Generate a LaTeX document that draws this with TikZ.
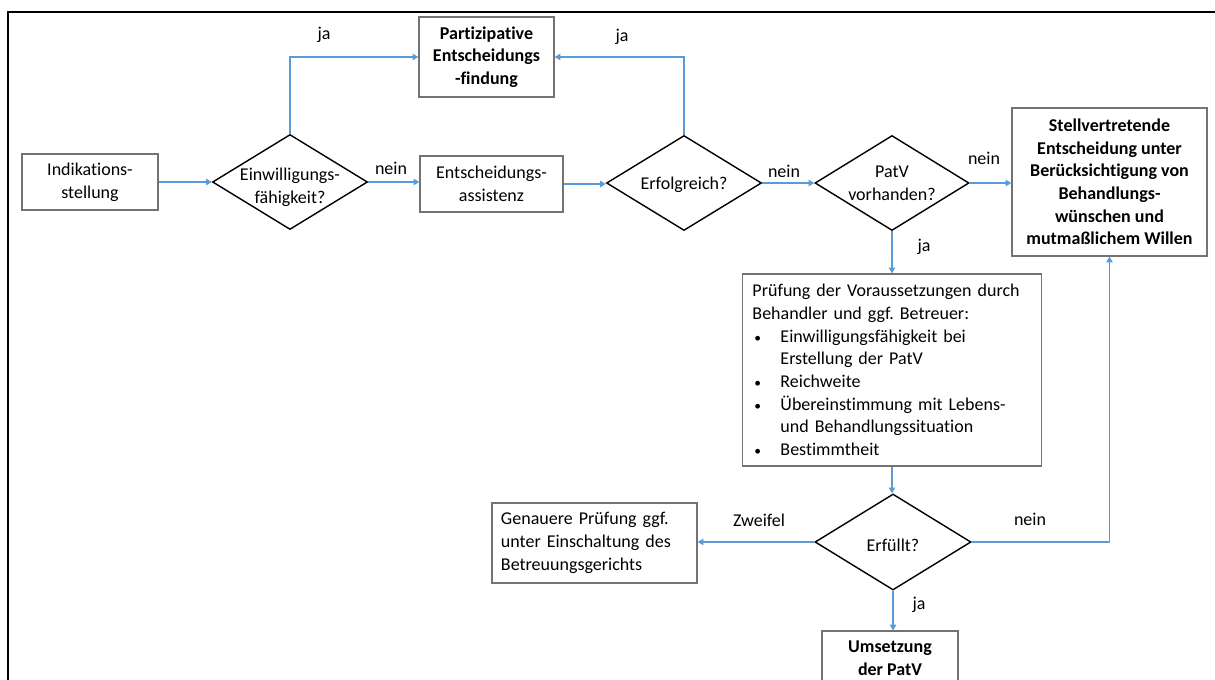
\documentclass[tikz,border=0pt]{standalone}
\usepackage{fontspec}
\setmainfont{Carlito}[Ligatures=NoCommon]
\usetikzlibrary{shapes.geometric,arrows.meta}
\definecolor{lineblue}{RGB}{91,155,213}
\newcommand\bulitem{\makebox[0.7cm][l]{\hspace*{0.05cm}\scalebox{0.75}{•}}}
\frenchspacing
\begin{document}
\begin{tikzpicture}[x=0.025cm,y=-0.025cm,
  every node/.style={font=\fontsize{12.8}{16.1}\selectfont},
  box/.style={draw=black!55, line width=0.9pt, align=center, inner sep=0pt},
  bbox/.style={box, font=\fontsize{12.8}{16.1}\selectfont\bfseries},
  dia/.style={draw=black, line width=1pt, diamond, inner sep=0pt, minimum width=3.875cm, minimum height=2.375cm},
  dtext/.style={align=center, inner sep=0pt, font=\fontsize{12.8}{16.1}\selectfont},
  con/.style={draw=lineblue, line width=0.9pt, -{Triangle[length=4pt,width=4.5pt]}},
  lbl/.style={inner sep=0pt}
]
\useasboundingbox (0,0) rectangle (1215,679);
\clip (0,0) rectangle (1215,679);
% frame
\draw[line width=1.4pt] (8,680) -- (8,12) -- (1216,12);

% nodes
\node[box, minimum width=3.4cm, minimum height=1.4cm] (ind) at (90,182) {Indikations-\\stellung};
\node[dia, label={[dtext,yshift=-0.14cm]center:{Einwilligungs-\\fähigkeit?}}] (d1) at (290,182) {};
\node[bbox, minimum width=3.375cm, minimum height=2cm] (part) at (486.5,57) {Partizipative\\Entscheidungs\\-findung};
\node[box, minimum width=3.575cm, minimum height=1.4cm] (ea) at (491.5,184) {Entscheidungs-\\assistenz};
\node[dia, label={[dtext,yshift=-0.04cm]center:{Erfolgreich?}}] (d2) at (684,183) {};
\node[dia, minimum width=3.85cm, label={[dtext,yshift=0.0cm]center:{PatV\\vorhanden?}}] (d3) at (892,183) {};
\node[bbox, minimum width=4.875cm, minimum height=3.7cm] (sv) at (1109.5,182) {Stellvertretende\\Entscheidung unter\\Berücksichtigung von\\Behandlungs-\\wünschen und\\mutmaßlichem Willen};
\node[box, align=left, text width=6.975cm, inner xsep=0.25cm, minimum height=4.8cm] (pr) at (892,370)
 {Prüfung der Voraussetzungen durch\\Behandler und ggf. Betreuer:\\\bulitem Einwilligungsfähigkeit bei\\\hspace*{0.7cm}Erstellung der PatV\\\bulitem Reichweite\\\bulitem Übereinstimmung mit Lebens-\\\hspace*{0.7cm}und Behandlungssituation\\\bulitem Bestimmtheit};
\node[dia, minimum width=3.9cm, minimum height=2.4cm, label={[dtext,yshift=-0.08cm]center:{Erfüllt?}}] (d4) at (893,542) {};
\node[box, align=left, text width=4.675cm, inner xsep=0.225cm, minimum height=2cm] (gen) at (594.5,543)
 {Genauere Prüfung ggf.\\unter Einschaltung des\\Betreuungsgerichts};
\node[bbox, minimum width=3.4cm, minimum height=1.375cm] (um) at (890,658.5) {Umsetzung\\der PatV};

% labels
\node[lbl] (l1) at (324,35) {ja};
\node[lbl] (l2) at (622,37) {ja};
\node[lbl] (l3) at (391,168) {nein};
\node[lbl] (l4) at (784,171) {nein};
\node[lbl] (l5) at (984,158) {nein};
\node[lbl] (l6) at (924,247) {ja};
\node[lbl] (l7) at (759,520) {Zweifel};
\node[lbl] (l8) at (1030,519) {nein};
\node[lbl] (l9) at (919,605) {ja};

% connectors
\draw[con] (ind.east) -- (ind.east -| d1.west);
\draw[con] (d1.north) |- (part.west);
\draw[con] (d1.east) -- (d1.east -| ea.west);
\draw[con] (ea.east) -- (ea.east -| d2.west);
\draw[con] (d2.north) |- (part.east);
\draw[con] (d2.east) -- (d2.east -| d3.west);
\draw[con] (d3.east) -- (d3.east -| sv.west);
\draw[con] (d3.south) -- (d3.south |- pr.north);
\draw[con] (pr.south) -- (pr.south |- d4.north);
\draw[con] (d4.west) -- (d4.west -| gen.east);
\draw[con] (d4.east) -| (sv.south);
\draw[con] (d4.south) -- (d4.south |- um.north);
\end{tikzpicture}
\end{document}
